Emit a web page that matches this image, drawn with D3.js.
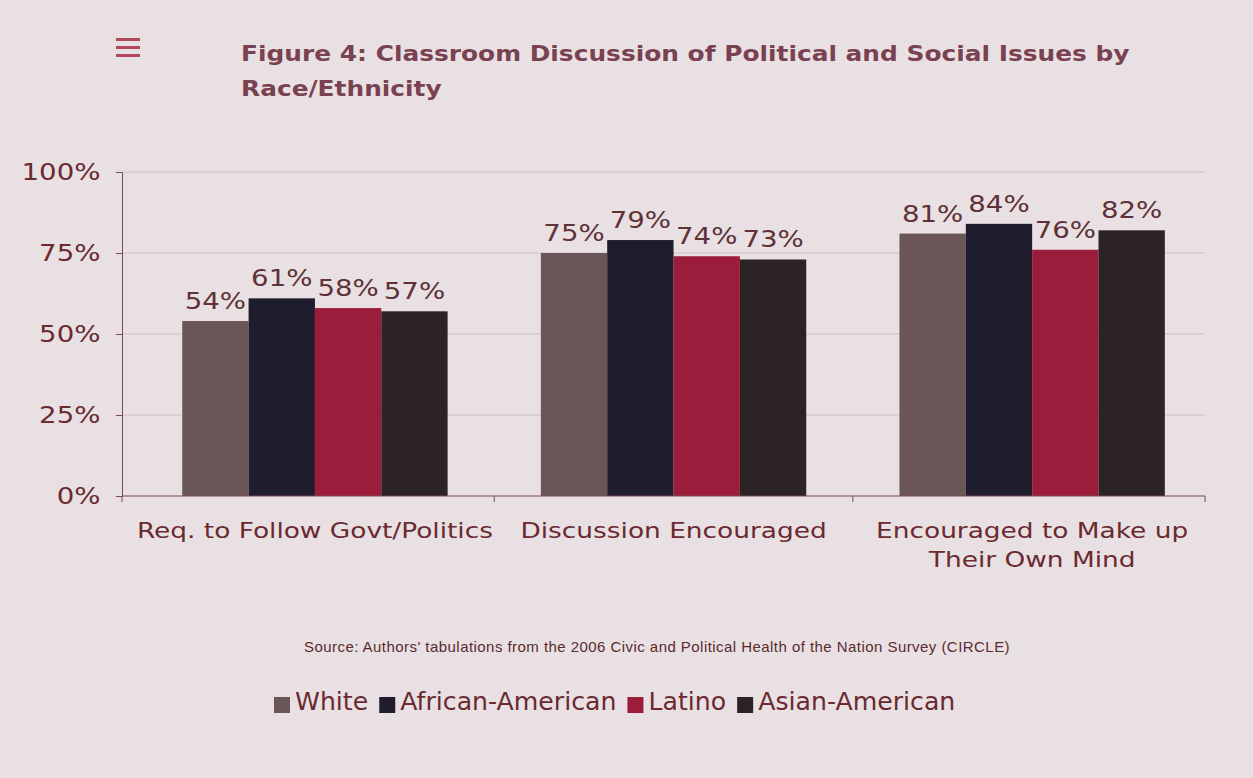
<!DOCTYPE html>
<html><head><meta charset="utf-8">
<script src="https://cdn.jsdelivr.net/npm/d3@7"></script>
<style>
body{margin:0;background:#e9e0e3;}
svg{display:block;}
</style></head>
<body>
<svg id="chart" width="1253" height="778"></svg>
<script>
const categories = ["Req. to Follow Govt/Politics", "Discussion Encouraged", "Encouraged to Make up|Their Own Mind"];
const seriesNames = ["White", "African-American", "Latino", "Asian-American"];
const white = [54, 75, 81];
const africanAmerican = [61, 79, 84];
const latino = [58, 74, 76];
const asianAmerican = [57, 73, 82];
const yTicks = [0, 25, 50, 75, 100];
const colors = ["#6a5656", "#1f1c2e", "#9c1c3b", "#2b2325"];

const seriesValues = [white, africanAmerican, latino, asianAmerican];
const svg = d3.select("#chart");
const W = 1253, H = 778;
svg.append("rect").attr("width", W).attr("height", H).attr("fill", "#e9e0e3");

const mLeft = 122, mRight = 1205, mTop = 172, mBottom = 496;
const textCol = "#6a2a30";
const FONT = "DejaVu Sans, Verdana, sans-serif";

// hamburger icon
[38, 46, 54].forEach(yy => svg.append("rect").attr("x", 116).attr("y", yy).attr("width", 24).attr("height", 3).attr("fill", "#b3495b"));

// title (horizontally widened glyphs)
const title = svg.append("text").attr("transform", "translate(241,61) scale(1.13,1)")
  .attr("font-family", FONT).attr("font-weight", "bold")
  .attr("font-size", 22).attr("fill", "#7a4250");
title.append("tspan").attr("x", 0).attr("dy", 0).text("Figure 4: Classroom Discussion of Political and Social Issues by");
title.append("tspan").attr("x", 0).attr("dy", 35).text("Race/Ethnicity");

const x0 = d3.scaleBand().domain(categories).range([mLeft, mRight]).paddingInner(0.26).paddingOuter(0.14).align(0.6);
const x1 = d3.scaleBand().domain(seriesNames).range([0, x0.bandwidth()]).padding(0);
const y = d3.scaleLinear().domain([0, 100]).range([mBottom, mTop]);

// gridlines
svg.append("g").selectAll("line").data(yTicks.filter(t => t > 0)).join("line")
  .attr("x1", mLeft).attr("x2", mRight).attr("y1", d => y(d)).attr("y2", d => y(d))
  .attr("stroke", "#cdbfc4").attr("stroke-width", 1);

// y axis
const yAxis = svg.append("g").attr("transform", `translate(${mLeft},0)`)
  .call(d3.axisLeft(y).tickValues(yTicks).tickFormat(d => d + "%").tickSize(6).tickPadding(12));
yAxis.select(".domain").attr("stroke", "#7a4a4f");
yAxis.selectAll(".tick line").attr("stroke", "#7a4a4f");
yAxis.selectAll("text").attr("font-family", FONT).attr("font-size", 23).attr("fill", textCol)
  .attr("transform", "scale(1.2,1)");

// bars
const groups = svg.append("g").selectAll("g").data(categories).join("g")
  .attr("transform", d => `translate(${x0(d)},0)`);
groups.selectAll("rect").data((c, i) => seriesNames.map((s, j) => ({s, v: seriesValues[j][i], j})))
  .join("rect")
  .attr("x", d => x1(d.s)).attr("width", x1.bandwidth())
  .attr("y", d => y(d.v)).attr("height", d => mBottom - y(d.v))
  .attr("fill", d => colors[d.j]);
groups.selectAll("text").data((c, i) => seriesNames.map((s, j) => ({s, v: seriesValues[j][i], j})))
  .join("text")
  .attr("transform", d => `translate(${x1(d.s) + x1.bandwidth() / 2},${y(d.v) - 12}) scale(1.2,1)`)
  .attr("text-anchor", "middle")
  .attr("font-family", FONT).attr("font-size", 23).attr("fill", "#5e3236")
  .text(d => d.v + "%");

// x axis
svg.append("line").attr("x1", mLeft).attr("x2", mRight).attr("y1", mBottom).attr("y2", mBottom).attr("stroke", "#7a4a4f");
const bounds = [mLeft].concat(categories.map(c => x0(c) + x0.bandwidth() + x0.step() * x0.paddingInner() / 2));
bounds[bounds.length - 1] = mRight;
svg.append("g").selectAll("line").data(bounds).join("line")
  .attr("x1", d => d).attr("x2", d => d).attr("y1", mBottom).attr("y2", mBottom + 6).attr("stroke", "#7a4a4f");

svg.append("g").selectAll("text").data(categories).join("text")
  .attr("transform", d => `translate(${x0(d) + x0.bandwidth() / 2},538) scale(1.2,1)`)
  .attr("text-anchor", "middle")
  .attr("font-family", FONT).attr("font-size", 22).attr("fill", textCol)
  .each(function(d) {
    const lines = d.split("|");
    const t = d3.select(this);
    lines.forEach((l, i) => t.append("tspan").attr("x", 0).attr("dy", i ? 29 : 0).text(l));
  });

// source
svg.append("text").attr("x", 657).attr("y", 652).attr("text-anchor", "middle")
  .attr("font-family", "Liberation Sans, Arial, sans-serif").attr("font-size", 15).attr("letter-spacing", 0.45).attr("fill", "#5a2a2e")
  .text("Source: Authors' tabulations from the 2006 Civic and Political Health of the Nation Survey (CIRCLE)");

// legend
const legendItems = seriesNames.map((s, i) => ({s, c: colors[i]}));
const lg = svg.append("g").attr("transform", "translate(274,0)");
const lsx = 1.05;
let lx = 0;
legendItems.forEach((d, i) => {
  const g = lg.append("g").attr("transform", `translate(${lx},0)`);
  g.append("rect").attr("x", 0).attr("y", 697).attr("width", 16).attr("height", 16).attr("fill", d.c);
  const t = g.append("text").attr("transform", `translate(21,710) scale(${lsx},1)`)
    .attr("font-family", FONT).attr("font-size", 24).attr("fill", textCol).text(d.s);
  lx += 21 + t.node().getComputedTextLength() * lsx + 11;
});
</script>
</body></html>
